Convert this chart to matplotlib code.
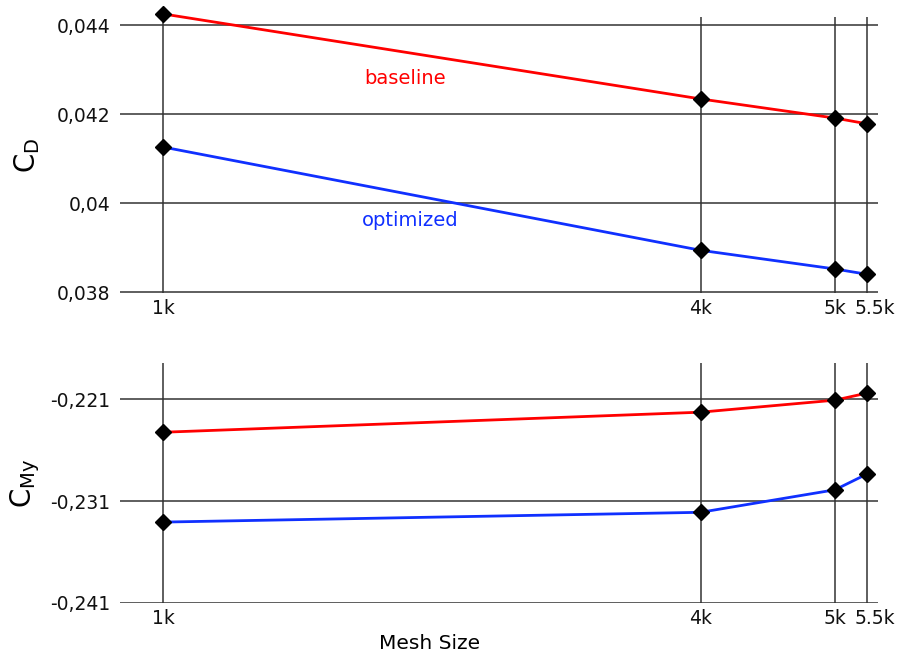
import matplotlib
matplotlib.use("Agg")
import matplotlib.pyplot as plt
import matplotlib.transforms as mtransforms
from matplotlib.ticker import FuncFormatter

plt.rcParams["font.family"] = ["DejaVu Sans"]

# mesh positions on the (non-uniform) x axis, with their labels
mesh_x = [1.0, 4.0, 4.75, 4.93]
mesh_labels = ["1k", "4k", "5k", "5.5k"]

cd_baseline = [0.04425, 0.04234, 0.04191, 0.04178]
cd_optimized = [0.04126, 0.03894, 0.03852, 0.03840]

cmy_baseline = [-0.22425, -0.22228, -0.2211, -0.2204]
cmy_optimized = [-0.23307, -0.23211, -0.2299, -0.22834]

cd_ticks = [0.038, 0.040, 0.042, 0.044]
cmy_ticks = [-0.241, -0.231, -0.221]


def comma_fmt(v, pos):
    return f"{v:g}".replace(".", ",")


fig = plt.figure(figsize=(8.98, 6.57), dpi=100)
ax1 = fig.add_axes([0.1336, 0.5540, 0.8441, 0.4201])
ax2 = fig.add_axes([0.1336, 0.0821, 0.8441, 0.3654])


def style(ax, yticks, ylim, ylabel):
    ax.set_xlim(0.76, 4.99)
    ax.set_ylim(*ylim)
    ax.set_xticks(mesh_x)
    ax.set_xticklabels(mesh_labels)
    ax.set_yticks(yticks)
    ax.yaxis.set_major_formatter(FuncFormatter(comma_fmt))
    ax.grid(True, color="#333333", linewidth=1.1)
    ax.set_axisbelow(True)
    for s in ax.spines.values():
        s.set_visible(False)
    ax.tick_params(axis="y", length=0, labelsize=13.5, colors="#111111", pad=7)
    ax.tick_params(axis="x", length=0, labelsize=13.5, colors="#111111", pad=4)
    # nudge the crowded last tick label to the right
    last = ax.get_xticklabels()[-1]
    last.set_transform(last.get_transform() +
                       mtransforms.ScaledTranslation(0.08, 0, fig.dpi_scale_trans))
    ax.set_ylabel(ylabel, fontsize=20)
    ax.yaxis.set_label_coords(-0.103, 0.5)


ax1.plot(mesh_x, cd_baseline, color="red", lw=2, marker="D", ms=8,
         mfc="black", mec="black", clip_on=False)
ax1.plot(mesh_x, cd_optimized, color="#1030ff", lw=2, marker="D", ms=8,
         mfc="black", mec="black", clip_on=False)
style(ax1, cd_ticks, (0.03798, 0.04418), "C$_{\\mathrm{D}}$")
ax1.text(2.35, 0.04279, "baseline", color="red", fontsize=14,
         ha="center", va="center")
ax1.text(2.38, 0.03960, "optimized", color="#1030ff", fontsize=14,
         ha="center", va="center")

ax2.plot(mesh_x, cmy_baseline, color="red", lw=2, marker="D", ms=8,
         mfc="black", mec="black", clip_on=False)
ax2.plot(mesh_x, cmy_optimized, color="#1030ff", lw=2, marker="D", ms=8,
         mfc="black", mec="black", clip_on=False)
style(ax2, cmy_ticks, (-0.24102, -0.21745), "C$_{\\mathrm{My}}$")
ax2.set_xlabel("Mesh Size", fontsize=14.5)
ax2.xaxis.set_label_coords(0.409, -0.13)

fig.savefig("out.png", dpi=100)
